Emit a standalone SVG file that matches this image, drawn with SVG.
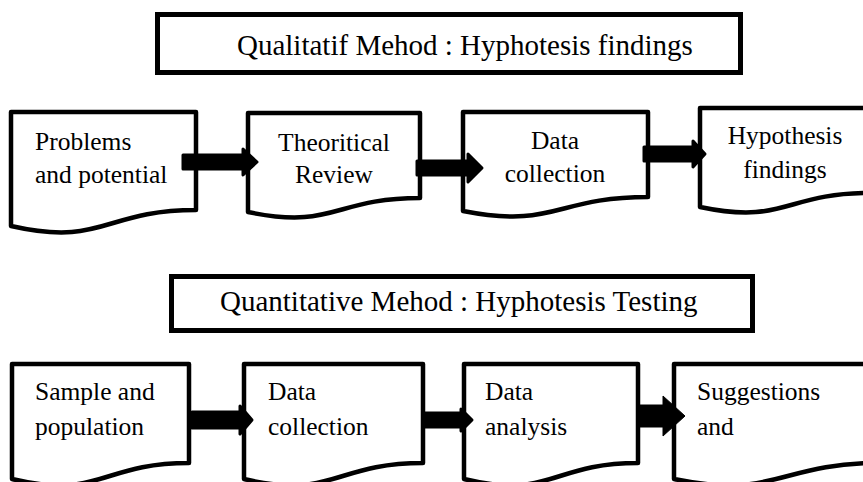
<svg xmlns="http://www.w3.org/2000/svg" width="863" height="482" viewBox="0 0 863 482">
<style>
.bg{fill:#fff}
.title{fill:#fff;stroke:#000;stroke-width:5}
.doc{fill:#fff;stroke:#000;stroke-width:4.5;stroke-linejoin:round}
.t{font-family:"Liberation Serif","Times New Roman",serif;font-size:25.5px;fill:#000}
.tt{font-family:"Liberation Serif","Times New Roman",serif;font-size:29px;fill:#000}
.c{text-anchor:middle}
.arr{fill:#000;stroke:#000;stroke-width:3;stroke-linejoin:round}
.arr2{fill:#000;stroke:#000;stroke-width:1}
</style>
<rect class="bg" x="0" y="0" width="863" height="482"/>
<g id="title1">
<rect class="title" x="157.5" y="14.5" width="583" height="58"/>
<text class="tt" x="237" y="55">Qualitatif Mehod : Hyphotesis findings</text>
</g>
<g id="node-problems">
<path class="doc" d="M11,112 H196 V210 C103.5,210 103.5,247 11,226 Z"/>
<text class="t" x="35" y="150">Problems</text>
<text class="t" x="35" y="183">and potential</text>
</g>
<g id="node-theory">
<path class="doc" d="M248,113 H420 V198 C334,198 334,230 248,212 Z"/>
<text class="t c" x="334" y="151">Theoritical</text>
<text class="t c" x="334" y="183">Review</text>
</g>
<g id="node-datacollection1">
<path class="doc" d="M463,112 H648 V197 C555.5,197 555.5,229 463,211 Z"/>
<text class="t c" x="555" y="149">Data</text>
<text class="t c" x="555" y="182">collection</text>
</g>
<g id="node-hypothesis">
<path class="doc" d="M700,108 H870 V193 C785,193 785,225 700,207 Z"/>
<text class="t c" x="785" y="144">Hypothesis</text>
<text class="t c" x="785" y="178">findings</text>
</g>
<g id="title2">
<rect class="title" x="171.5" y="276.5" width="581" height="54"/>
<text class="tt" x="220" y="311">Quantitative Mehod : Hyphotesis Testing</text>
</g>
<g id="node-sample">
<path class="doc" d="M12,364 H189 V463 C100.5,463 100.5,500 12,479 Z"/>
<text class="t" x="35" y="400">Sample and</text>
<text class="t" x="35" y="435">population</text>
</g>
<g id="node-datacollection2">
<path class="doc" d="M244,364 H423 V463 C333.5,463 333.5,500 244,479 Z"/>
<text class="t" x="268" y="400">Data</text>
<text class="t" x="268" y="435">collection</text>
</g>
<g id="node-analysis">
<path class="doc" d="M464,364 H638 V463 C551,463 551,500 464,479 Z"/>
<text class="t" x="485" y="400">Data</text>
<text class="t" x="485" y="435">analysis</text>
</g>
<g id="node-suggestions">
<path class="doc" d="M674,364 H880 V463 C777,463 777,500 674,479 Z"/>
<text class="t" x="697" y="400">Suggestions</text>
<text class="t" x="697" y="435">and</text>
</g>
<g id="connectors">
<path class="arr" d="M183,155 H243 V149 L257,162 L243,175 V169 H183 Z"/>
<path class="arr" d="M417,161 H468 V154 L482,168 L468,182 V175 H417 Z"/>
<path class="arr" d="M644,147 H693 V141 L705,154 L693,167 V161 H644 Z"/>
<path class="arr" d="M192,412 H240 V406 L252,420 L240,434 V428 H192 Z"/>
<path class="arr" d="M423,413 H461 V409 L472,420 L461,431 V427 H423 Z"/>
<path class="arr2" d="M640,405 H663 V396 L685,416 L663,436 V427 H640 Z"/>
</g>
</svg>
